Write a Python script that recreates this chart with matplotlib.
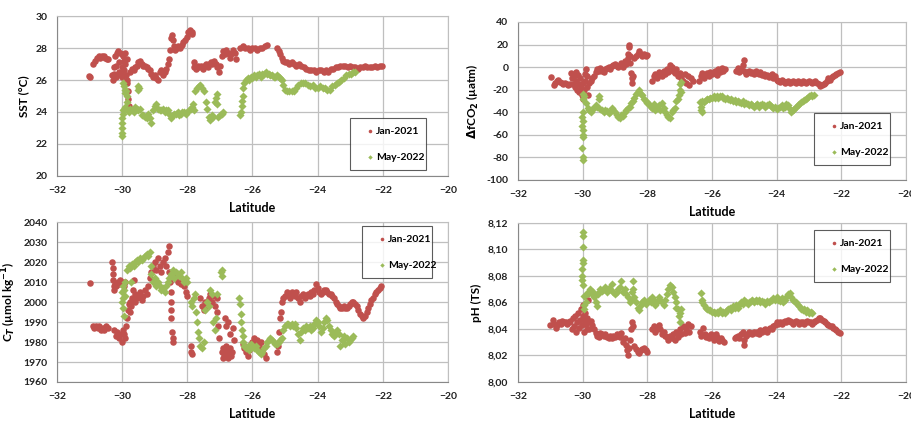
import numpy as np
import matplotlib
matplotlib.use("Agg")
import matplotlib.pyplot as plt

# colours used by the original spreadsheet chart
RED = "#C0504D"
GREEN = "#9BBB59"

# ---- SST (°C) --------------------------------------------------------
sst_jan = [
    (-31.0, 26.2), (-31.02, 26.25),
    (-30.88, 27.0), (-30.83, 27.2), (-30.78, 27.4), (-30.72, 27.5), (-30.67, 27.4), (-30.62, 27.5),
    (-30.57, 27.5), (-30.52, 27.4), (-30.47, 27.3), (-30.42, 27.3),
    (-30.3, 26.3), (-30.28, 26.0), (-30.25, 26.4), (-30.22, 27.5), (-30.2, 26.2), (-30.17, 27.7),
    (-30.15, 26.3), (-30.12, 27.8), (-30.1, 26.5), (-30.07, 27.7), (-30.05, 26.4), (-30.02, 27.6),
    (-30.0, 26.2), (-29.97, 27.5), (-29.95, 26.6), (-29.92, 27.7), (-29.9, 27.0), (-29.87, 26.3),
    (-29.85, 25.8), (-29.83, 25.3), (-29.82, 24.8), (-29.8, 24.4), (-29.84, 26.0), (-29.86, 27.3),
    (-30.2, 26.9), (-30.1, 27.1), (-30.0, 26.8), (-30.25, 26.8), (-29.95, 27.2),
    (-29.75, 26.5), (-29.7, 26.7), (-29.65, 26.6), (-29.6, 26.8), (-29.55, 26.9), (-29.5, 27.1),
    (-29.45, 27.2), (-29.4, 27.0), (-29.35, 26.9), (-29.3, 26.9), (-29.25, 26.8), (-29.2, 26.7),
    (-29.15, 26.6), (-29.1, 26.4), (-29.05, 26.2), (-29.0, 26.3), (-28.95, 26.1), (-28.9, 26.0),
    (-28.85, 26.5), (-28.8, 26.6), (-28.75, 26.3), (-28.7, 26.5), (-28.65, 26.7), (-28.6, 27.0),
    (-28.55, 27.3),
    (-28.52, 27.9), (-28.5, 28.6), (-28.47, 28.8), (-28.45, 28.5), (-28.42, 28.1), (-28.38, 27.9),
    (-28.33, 28.0), (-28.28, 28.1), (-28.22, 28.0), (-28.17, 28.2), (-28.12, 28.4), (-28.07, 28.5),
    (-28.02, 28.7), (-27.97, 29.0), (-27.92, 29.1), (-27.87, 29.0), (-27.85, 28.9),
    (-27.8, 26.8), (-27.78, 27.1), (-27.73, 26.7), (-27.68, 26.9), (-27.63, 26.8), (-27.58, 26.9),
    (-27.53, 26.7), (-27.48, 26.9), (-27.43, 27.0), (-27.38, 26.8), (-27.33, 27.0), (-27.28, 27.1),
    (-27.23, 27.0), (-27.18, 27.2), (-27.13, 27.0), (-27.08, 26.8), (-27.03, 26.5), (-27.0, 26.9),
    (-26.95, 27.5), (-26.9, 27.8), (-26.85, 27.6), (-26.8, 27.9), (-26.75, 27.7), (-26.7, 27.4),
    (-26.65, 27.6), (-26.6, 27.9), (-26.55, 27.7), (-26.5, 27.3),
    (-26.38, 28.0), (-26.3, 28.1), (-26.22, 28.0), (-26.15, 28.0), (-26.07, 27.9), (-26.0, 28.0),
    (-25.92, 28.0), (-25.85, 27.9), (-25.77, 28.0), (-25.7, 28.0), (-25.62, 28.1), (-25.56, 28.2),
    (-25.26, 28.0), (-25.2, 27.8), (-25.15, 27.6), (-25.1, 27.4), (-25.05, 27.2), (-25.0, 27.1),
    (-24.95, 27.1), (-24.88, 27.0), (-24.8, 27.1), (-24.72, 27.0), (-24.65, 26.9), (-24.58, 27.0),
    (-24.5, 26.9), (-24.42, 26.8), (-24.35, 26.7), (-24.28, 26.6), (-24.2, 26.6), (-24.12, 26.6),
    (-24.05, 26.5), (-23.97, 26.6), (-23.9, 26.6), (-23.82, 26.5), (-23.75, 26.6), (-23.68, 26.5),
    (-23.6, 26.7), (-23.52, 26.7), (-23.45, 26.8), (-23.37, 26.8), (-23.3, 26.9), (-23.22, 26.9),
    (-23.15, 26.9), (-23.07, 26.8), (-23.0, 26.9), (-22.92, 26.8), (-22.85, 26.8), (-22.77, 26.7),
    (-22.7, 26.8), (-22.62, 26.8), (-22.55, 26.9), (-22.47, 26.8), (-22.4, 26.8), (-22.32, 26.8),
    (-22.25, 26.9), (-22.17, 26.8), (-22.1, 26.9), (-22.03, 26.9),
]
sst_may = [
    (-30.0, 22.5), (-30.0, 22.7), (-30.0, 23.0), (-29.99, 23.3), (-29.99, 23.6), (-29.98, 23.9),
    (-29.97, 24.1),
    (-29.97, 25.8), (-29.94, 25.6), (-29.92, 25.4), (-29.9, 25.2), (-29.88, 25.3), (-29.86, 25.0),
    (-29.84, 24.6),
    (-29.95, 24.2), (-29.9, 24.3), (-29.85, 24.1), (-29.8, 24.0), (-29.75, 24.2), (-29.7, 24.1),
    (-29.65, 24.0), (-29.6, 24.3), (-29.55, 24.2), (-29.5, 24.1), (-29.45, 24.2), (-29.4, 23.8),
    (-29.35, 23.8), (-29.3, 23.7), (-29.25, 23.6), (-29.2, 23.9), (-29.15, 23.6), (-29.1, 23.3),
    (-29.05, 24.1), (-29.0, 24.4), (-28.95, 24.5), (-28.9, 24.2), (-28.85, 24.1), (-28.8, 24.1),
    (-28.75, 24.2), (-28.7, 24.0), (-28.65, 24.1), (-28.6, 24.1), (-28.55, 23.9), (-28.5, 23.6),
    (-28.45, 23.8), (-28.4, 23.9), (-28.35, 23.9), (-28.3, 24.0), (-28.25, 23.8), (-28.2, 23.9),
    (-28.15, 24.0), (-28.1, 24.0), (-28.05, 23.9), (-28.0, 24.0), (-27.95, 24.1), (-27.9, 24.2),
    (-27.85, 24.3), (-27.82, 24.5), (-27.78, 24.1),
    (-29.52, 25.4), (-29.5, 25.6), (-29.48, 25.5),
    (-27.75, 25.3), (-27.7, 25.5), (-27.65, 25.6), (-27.6, 25.7), (-27.55, 25.5), (-27.5, 25.3),
    (-27.42, 24.6), (-27.4, 24.2), (-27.35, 23.7), (-27.3, 23.5), (-27.25, 23.8), (-27.2, 23.7),
    (-27.15, 24.6), (-27.12, 24.9), (-27.1, 25.1), (-27.08, 24.5),
    (-27.05, 23.7), (-27.0, 23.8), (-26.95, 23.9), (-26.9, 24.0),
    (-26.38, 23.8), (-26.35, 24.0), (-26.33, 24.4), (-26.32, 24.7), (-26.3, 25.0), (-26.28, 25.5),
    (-26.25, 25.8), (-26.2, 26.0), (-26.15, 26.1), (-26.1, 26.0), (-26.05, 26.2), (-26.0, 26.1),
    (-25.95, 26.3), (-25.9, 26.2), (-25.85, 26.3), (-25.8, 26.4), (-25.75, 26.2), (-25.7, 26.4),
    (-25.65, 26.4), (-25.6, 26.5), (-25.55, 26.4), (-25.5, 26.4), (-25.45, 26.3), (-25.4, 26.3),
    (-25.35, 26.2), (-25.3, 26.2), (-25.25, 26.3), (-25.2, 26.2), (-25.15, 26.1), (-25.1, 26.0),
    (-25.05, 25.7), (-25.0, 25.4), (-24.95, 25.3), (-24.88, 25.3), (-24.8, 25.3), (-24.72, 25.3),
    (-24.65, 25.5), (-24.6, 25.7), (-24.52, 25.8), (-24.45, 25.8), (-24.38, 25.8), (-24.3, 25.7),
    (-24.22, 25.6), (-24.15, 25.7), (-24.07, 25.5), (-24.0, 25.5), (-23.93, 25.6), (-23.85, 25.5),
    (-23.78, 25.5), (-23.7, 25.4), (-23.63, 25.4), (-23.55, 25.6), (-23.48, 25.7), (-23.42, 25.8),
    (-23.35, 25.9), (-23.28, 26.0), (-23.2, 26.1), (-23.13, 26.3), (-23.05, 26.4), (-22.98, 26.4),
    (-22.9, 26.5), (-22.85, 26.5),
]

# ---- delta fCO2 (µatm) -----------------------------------------------
dfco2_jan = [
    (-30.99, -9),
    (-30.9, -16), (-30.85, -14), (-30.8, -12), (-30.75, -11), (-30.7, -13), (-30.65, -14),
    (-30.6, -15), (-30.55, -14), (-30.5, -15), (-30.45, -16), (-30.4, -15),
    (-30.35, -5), (-30.32, -10), (-30.3, -15), (-30.28, -8), (-30.25, -18), (-30.22, -4),
    (-30.2, -12), (-30.18, -20), (-30.15, -7), (-30.12, -15), (-30.1, -22), (-30.08, -10),
    (-30.05, -18), (-30.03, -25), (-30.0, -14), (-29.98, -28), (-29.96, -20), (-29.94, -6),
    (-29.92, -12), (-29.9, -2), (-29.88, -18), (-29.86, -8), (-29.84, -25),
    (-29.8, -14), (-29.75, -12), (-29.7, -10), (-29.65, -8), (-29.6, -4), (-29.55, -2),
    (-29.5, -3), (-29.45, -1), (-29.4, -3), (-29.35, -4), (-29.3, -2), (-29.25, -1),
    (-29.2, 0), (-29.15, -2), (-29.1, 1),
    (-29.05, 2), (-29.0, 3), (-28.95, 1), (-28.9, 0), (-28.85, 2), (-28.8, 4), (-28.75, 0),
    (-28.7, 5), (-28.65, 3), (-28.6, 8),
    (-28.6, 12), (-28.58, 18), (-28.57, 20), (-28.55, 10), (-28.53, 4),
    (-28.5, -5), (-28.48, -10), (-28.46, -14), (-28.44, -8),
    (-28.4, 8), (-28.35, 10), (-28.3, 12), (-28.25, 14), (-28.2, 12), (-28.15, 10), (-28.1, 12),
    (-28.05, 10), (-28.0, 11),
    (-27.85, -12), (-27.8, -8), (-27.75, -6), (-27.7, -10), (-27.65, -4), (-27.6, -5),
    (-27.55, -8), (-27.5, -3), (-27.45, -6), (-27.4, -2), (-27.35, -4), (-27.3, 2), (-27.25, 0),
    (-27.2, -3), (-27.15, -5), (-27.1, -2), (-27.05, -8), (-27.0, -5), (-26.95, -10),
    (-26.9, -12), (-26.85, -6), (-26.8, -14), (-26.75, -8), (-26.7, -16), (-26.65, -10),
    (-26.6, -12),
    (-26.4, -12), (-26.35, -8), (-26.3, -5), (-26.25, -10), (-26.2, -7), (-26.15, -5),
    (-26.1, -8), (-26.05, -4), (-26.0, -6), (-25.95, -5), (-25.9, -3), (-25.85, -7),
    (-25.8, -2), (-25.75, -4), (-25.7, -1), (-25.65, -3), (-25.6, -2),
    (-25.25, -3), (-25.2, -1), (-25.15, -4), (-25.1, -2), (-25.05, 2), (-25.02, 6), (-25.0, -3),
    (-24.95, -6), (-24.9, -4), (-24.85, -3), (-24.8, -5), (-24.75, -4), (-24.7, -6),
    (-24.65, -3), (-24.6, -5), (-24.55, -6), (-24.5, -4), (-24.45, -7), (-24.4, -6),
    (-24.35, -8), (-24.3, -7), (-24.25, -9), (-24.2, -8), (-24.15, -6), (-24.1, -10),
    (-24.05, -8), (-24.0, -11), (-23.95, -12), (-23.9, -13), (-23.85, -11), (-23.8, -12),
    (-23.75, -14), (-23.7, -13), (-23.65, -12), (-23.6, -14), (-23.55, -13), (-23.5, -12),
    (-23.45, -13), (-23.4, -14), (-23.35, -12), (-23.3, -13), (-23.25, -14), (-23.2, -12),
    (-23.15, -13), (-23.1, -14), (-23.05, -13), (-23.0, -12), (-22.95, -13), (-22.9, -14),
    (-22.85, -13), (-22.8, -12), (-22.75, -14), (-22.7, -15), (-22.65, -17), (-22.6, -16),
    (-22.55, -15), (-22.5, -14), (-22.45, -12), (-22.4, -10), (-22.35, -11), (-22.3, -9),
    (-22.25, -8), (-22.2, -7), (-22.15, -6), (-22.1, -5), (-22.05, -4),
]
dfco2_may = [
    (-29.98, -24), (-29.98, -28), (-30.0, -40), (-30.01, -44), (-30.0, -48), (-30.02, -52),
    (-30.0, -56), (-29.99, -60), (-30.0, -62), (-30.01, -72), (-30.0, -80), (-30.0, -82),
    (-29.95, -26), (-29.9, -32), (-29.85, -36), (-29.8, -38), (-29.75, -40), (-29.7, -37),
    (-29.65, -36), (-29.6, -34), (-29.55, -35), (-29.5, -28), (-29.48, -26), (-29.45, -37),
    (-29.4, -38), (-29.35, -40), (-29.3, -38), (-29.25, -39), (-29.2, -41), (-29.15, -40),
    (-29.1, -36), (-29.05, -38), (-29.0, -40), (-28.95, -42), (-28.9, -44), (-28.85, -45),
    (-28.8, -42), (-28.75, -43), (-28.7, -40), (-28.65, -38), (-28.6, -36), (-28.55, -35),
    (-28.5, -32), (-28.45, -30), (-28.4, -27), (-28.35, -24), (-28.3, -22), (-28.25, -20),
    (-28.2, -24), (-28.15, -25), (-28.1, -28), (-28.05, -30), (-28.0, -32), (-27.95, -33),
    (-27.9, -35), (-27.85, -36), (-27.8, -33), (-27.75, -38), (-27.7, -36), (-27.65, -34),
    (-27.6, -38), (-27.55, -32), (-27.5, -36), (-27.45, -40), (-27.4, -42), (-27.35, -44),
    (-27.3, -45), (-27.25, -40), (-27.2, -38), (-27.15, -36), (-27.1, -30), (-27.05, -28),
    (-27.02, -25), (-27.0, -20), (-26.98, -15), (-26.97, -13), (-26.95, -22),
    (-26.38, -31), (-26.35, -35), (-26.33, -38), (-26.32, -40), (-26.3, -30), (-26.25, -31),
    (-26.2, -29), (-26.15, -28), (-26.1, -28), (-26.05, -27), (-26.0, -27), (-25.95, -26),
    (-25.9, -27), (-25.85, -26), (-25.8, -27), (-25.75, -26), (-25.7, -26), (-25.65, -27),
    (-25.6, -28), (-25.55, -27), (-25.5, -28), (-25.45, -29), (-25.4, -28), (-25.35, -30),
    (-25.3, -29), (-25.25, -31), (-25.2, -30), (-25.15, -31), (-25.1, -32), (-25.05, -30),
    (-25.0, -33), (-24.95, -32), (-24.9, -33), (-24.85, -34), (-24.8, -33), (-24.75, -34),
    (-24.7, -35), (-24.65, -34), (-24.6, -33), (-24.55, -35), (-24.5, -34), (-24.45, -33),
    (-24.4, -34), (-24.35, -35), (-24.3, -34), (-24.25, -33), (-24.2, -34), (-24.15, -35),
    (-24.1, -36), (-24.05, -35), (-24.0, -37), (-23.95, -36), (-23.9, -35), (-23.85, -34),
    (-23.8, -36), (-23.75, -35), (-23.7, -33), (-23.65, -34), (-23.6, -37), (-23.55, -40),
    (-23.5, -38), (-23.45, -37), (-23.4, -35), (-23.35, -34), (-23.3, -33), (-23.25, -31),
    (-23.2, -30), (-23.15, -29), (-23.1, -28), (-23.05, -27), (-23.0, -26), (-22.95, -25),
    (-22.9, -26), (-22.85, -25),
]

# ---- CT (µmol/kg) ----------------------------------------------------
ct_jan = [
    (-31.0, 2009.5),
    (-30.9, 1988), (-30.85, 1987), (-30.8, 1988), (-30.75, 1987), (-30.7, 1988), (-30.65, 1986),
    (-30.6, 1987), (-30.55, 1986), (-30.5, 1988), (-30.45, 1987),
    (-30.3, 2020), (-30.29, 2017), (-30.28, 2014), (-30.27, 2011), (-30.26, 2008), (-30.25, 2006),
    (-30.22, 2009), (-30.18, 2008), (-30.14, 2010), (-30.1, 2009), (-30.06, 2011), (-30.02, 2010),
    (-29.98, 2009), (-29.94, 2008), (-29.9, 2010),
    (-30.25, 1986), (-30.2, 1983), (-30.15, 1985), (-30.1, 1982), (-30.05, 1984), (-30.0, 1980),
    (-29.98, 1986), (-29.95, 1984), (-29.9, 1982),
    (-29.88, 1988), (-29.85, 1992), (-29.82, 1996), (-29.8, 1999), (-29.77, 2000), (-29.75, 1995),
    (-29.72, 1998), (-29.7, 2002), (-29.68, 2006), (-29.65, 2011), (-29.62, 2000), (-29.6, 2004),
    (-29.55, 2002), (-29.5, 2003), (-29.45, 2005), (-29.4, 2001), (-29.35, 2003), (-29.3, 2006),
    (-29.25, 2004),
    (-29.2, 2008), (-29.15, 2012), (-29.1, 2015), (-29.05, 2018), (-29.0, 2020), (-28.95, 2016),
    (-28.9, 2022), (-28.85, 2018), (-28.8, 2015), (-28.75, 2020), (-28.7, 2022), (-28.65, 2018),
    (-28.6, 2025), (-28.57, 2028), (-28.55, 2015),
    (-28.52, 2010), (-28.51, 2005), (-28.5, 2000), (-28.5, 1996), (-28.5, 1992), (-28.47, 1985),
    (-28.45, 1982), (-28.43, 1980),
    (-28.4, 2014), (-28.35, 2012), (-28.3, 2010), (-28.25, 2011), (-28.2, 2009), (-28.15, 2010),
    (-28.1, 2008), (-28.05, 2005), (-28.0, 2003),
    (-27.9, 1978), (-27.88, 1975), (-27.85, 1974),
    (-27.6, 2002), (-27.55, 1998), (-27.5, 1996), (-27.45, 2000), (-27.4, 1998), (-27.35, 2002),
    (-27.3, 2004), (-27.25, 2000), (-27.2, 2003), (-27.15, 1998), (-27.1, 2002),
    (-27.08, 1995), (-27.05, 1988), (-27.02, 1982),
    (-26.95, 1975), (-26.92, 1972), (-26.9, 1977), (-26.87, 1974), (-26.85, 1976), (-26.82, 1973),
    (-26.8, 1978), (-26.77, 1975), (-26.75, 1972), (-26.72, 1976), (-26.7, 1974), (-26.68, 1977),
    (-26.65, 1973), (-26.62, 1975),
    (-26.85, 1992), (-26.8, 1988), (-26.75, 1990), (-26.7, 1984), (-26.6, 1987), (-26.57, 1981),
    (-26.3, 1979), (-26.25, 1977), (-26.2, 1975), (-26.15, 1973), (-26.1, 1976), (-26.05, 1978),
    (-26.0, 1980), (-25.95, 1982), (-25.9, 1979), (-25.85, 1981), (-25.8, 1978), (-25.75, 1980),
    (-25.7, 1976), (-25.65, 1974), (-25.6, 1972),
    (-25.25, 1975), (-25.22, 1978), (-25.18, 1985), (-25.15, 1992), (-25.13, 1995), (-25.1, 2000),
    (-25.07, 2002),
    (-25.0, 2003), (-24.95, 2005), (-24.9, 2004), (-24.85, 2002), (-24.8, 2005), (-24.75, 2004),
    (-24.7, 2003), (-24.65, 2005), (-24.6, 2002), (-24.55, 2000), (-24.5, 2003), (-24.45, 2004),
    (-24.4, 2002), (-24.35, 2003), (-24.3, 2004), (-24.25, 2003), (-24.2, 2005), (-24.15, 2004),
    (-24.1, 2006), (-24.05, 2009), (-24.0, 2007), (-23.95, 2005), (-23.9, 2004), (-23.85, 2005),
    (-23.8, 2006), (-23.75, 2006), (-23.7, 2005), (-23.65, 2004), (-23.6, 2004), (-23.55, 2003),
    (-23.5, 2002), (-23.45, 2000), (-23.4, 1999), (-23.35, 1998), (-23.3, 1997), (-23.25, 1997),
    (-23.2, 1998), (-23.15, 1997), (-23.1, 1997), (-23.05, 1998), (-23.0, 1999), (-22.95, 2000),
    (-22.9, 2000), (-22.85, 1999), (-22.8, 1998), (-22.75, 1996), (-22.7, 1994), (-22.65, 1993),
    (-22.6, 1992), (-22.55, 1993), (-22.5, 1995), (-22.45, 1997), (-22.4, 1999), (-22.35, 2001),
    (-22.3, 2002), (-22.25, 2004), (-22.2, 2005), (-22.15, 2006), (-22.1, 2007), (-22.05, 2008),
]
ct_may = [
    (-30.02, 2000), (-30.0, 2005), (-29.98, 2008), (-29.97, 2002), (-29.96, 1997), (-29.95, 1993),
    (-29.94, 2006), (-29.92, 2003), (-29.9, 2010),
    (-29.85, 2016), (-29.8, 2018), (-29.75, 2017), (-29.72, 2010), (-29.7, 2019), (-29.65, 2018),
    (-29.6, 2020), (-29.55, 2021), (-29.5, 2020), (-29.45, 2022), (-29.4, 2021), (-29.35, 2022),
    (-29.3, 2023), (-29.25, 2024), (-29.2, 2023), (-29.15, 2025), (-29.12, 2018), (-29.1, 2014),
    (-29.05, 2010), (-29.0, 2012), (-28.95, 2008), (-28.9, 2010), (-28.85, 2008), (-28.8, 2006),
    (-28.75, 2007), (-28.7, 2005), (-28.65, 2008), (-28.6, 2010), (-28.55, 2012), (-28.5, 2014),
    (-28.45, 2016), (-28.4, 2012), (-28.35, 2015), (-28.3, 2014), (-28.25, 2013), (-28.2, 2015),
    (-28.15, 2012), (-28.1, 2010), (-28.05, 2012), (-28.0, 2010),
    (-27.9, 2000), (-27.85, 1998), (-27.8, 2002), (-27.75, 2004), (-27.72, 1995), (-27.7, 1990),
    (-27.68, 1985), (-27.65, 1982), (-27.6, 1978), (-27.55, 1977), (-27.5, 1980),
    (-27.45, 1996), (-27.4, 2000), (-27.35, 1998), (-27.3, 2006), (-27.25, 2004), (-27.2, 1990),
    (-27.15, 1986), (-27.12, 1992), (-27.1, 2004),
    (-26.97, 2015), (-26.95, 2016), (-26.93, 2013),
    (-26.4, 2002), (-26.38, 1999), (-26.36, 1994), (-26.34, 1990), (-26.32, 1986), (-26.3, 1983),
    (-26.28, 1980), (-26.25, 1978),
    (-26.2, 1977), (-26.15, 1978), (-26.1, 1976), (-26.05, 1979), (-26.0, 1978), (-25.95, 1977),
    (-25.9, 1978), (-25.85, 1976), (-25.8, 1975), (-25.75, 1974), (-25.7, 1975), (-25.65, 1977),
    (-25.6, 1978), (-25.55, 1980), (-25.5, 1981), (-25.45, 1982), (-25.4, 1981), (-25.35, 1980),
    (-25.3, 1979), (-25.25, 1979), (-25.2, 1980), (-25.15, 1981), (-25.1, 1982),
    (-25.05, 1986), (-25.0, 1988), (-24.95, 1989), (-24.9, 1989), (-24.85, 1988), (-24.8, 1989),
    (-24.75, 1988), (-24.7, 1989), (-24.65, 1987), (-24.6, 1984), (-24.55, 1981), (-24.5, 1985),
    (-24.45, 1987), (-24.4, 1986), (-24.35, 1988), (-24.3, 1987), (-24.25, 1988), (-24.2, 1986),
    (-24.15, 1987), (-24.1, 1989), (-24.05, 1991), (-24.0, 1990), (-23.95, 1988), (-23.9, 1985),
    (-23.85, 1987), (-23.8, 1990), (-23.75, 1992), (-23.7, 1991), (-23.65, 1988), (-23.6, 1986),
    (-23.55, 1984), (-23.5, 1983), (-23.45, 1985), (-23.4, 1986), (-23.35, 1984), (-23.3, 1978),
    (-23.25, 1981), (-23.2, 1983), (-23.15, 1979), (-23.1, 1982), (-23.05, 1980), (-23.0, 1981),
    (-22.95, 1982), (-22.9, 1983),
]

# ---- pH (total scale) --------------------------------------------------
ph_jan = [
    (-31.0, 8.043),
    (-30.92, 8.047), (-30.88, 8.044), (-30.83, 8.041), (-30.78, 8.043), (-30.73, 8.045),
    (-30.68, 8.044), (-30.63, 8.046), (-30.58, 8.045), (-30.53, 8.045), (-30.48, 8.044),
    (-30.43, 8.045), (-30.38, 8.046),
    (-30.33, 8.040), (-30.3, 8.048), (-30.27, 8.042), (-30.24, 8.050), (-30.21, 8.038),
    (-30.18, 8.045), (-30.15, 8.052), (-30.12, 8.041), (-30.09, 8.047), (-30.06, 8.055),
    (-30.03, 8.043), (-30.0, 8.050), (-29.98, 8.058), (-29.96, 8.038), (-29.94, 8.046),
    (-29.92, 8.052), (-29.9, 8.044), (-29.88, 8.040), (-29.86, 8.048), (-29.84, 8.062),
    (-29.82, 8.045), (-29.8, 8.040),
    (-29.75, 8.046), (-29.7, 8.043), (-29.65, 8.040), (-29.6, 8.037), (-29.55, 8.035),
    (-29.5, 8.034), (-29.45, 8.037), (-29.4, 8.036), (-29.35, 8.035), (-29.3, 8.036),
    (-29.25, 8.034), (-29.2, 8.033), (-29.15, 8.035), (-29.1, 8.033), (-29.05, 8.035),
    (-29.0, 8.034), (-28.95, 8.036), (-28.9, 8.035), (-28.85, 8.034), (-28.8, 8.037),
    (-28.75, 8.030), (-28.7, 8.033), (-28.65, 8.028), (-28.62, 8.024), (-28.6, 8.020),
    (-28.58, 8.026), (-28.55, 8.032),
    (-28.5, 8.040), (-28.47, 8.045), (-28.44, 8.042),
    (-28.4, 8.027), (-28.35, 8.025), (-28.3, 8.023), (-28.25, 8.022), (-28.2, 8.024),
    (-28.15, 8.025), (-28.1, 8.026), (-28.05, 8.024), (-28.0, 8.023),
    (-27.85, 8.040), (-27.8, 8.042), (-27.75, 8.038), (-27.7, 8.040), (-27.65, 8.043),
    (-27.6, 8.040), (-27.55, 8.036), (-27.5, 8.038), (-27.45, 8.035), (-27.4, 8.034),
    (-27.35, 8.032), (-27.3, 8.035), (-27.25, 8.033), (-27.2, 8.036), (-27.15, 8.032),
    (-27.1, 8.038), (-27.05, 8.034), (-27.0, 8.040), (-26.95, 8.036), (-26.9, 8.042),
    (-26.85, 8.037), (-26.8, 8.040), (-26.75, 8.044), (-26.7, 8.038), (-26.65, 8.042),
    (-26.38, 8.038), (-26.33, 8.035), (-26.28, 8.041), (-26.23, 8.036), (-26.18, 8.034),
    (-26.13, 8.035), (-26.08, 8.033), (-26.03, 8.036), (-25.98, 8.034), (-25.93, 8.032),
    (-25.88, 8.036), (-25.83, 8.034), (-25.78, 8.031), (-25.73, 8.033), (-25.68, 8.032),
    (-25.63, 8.030),
    (-25.3, 8.033), (-25.25, 8.034), (-25.2, 8.035), (-25.15, 8.033), (-25.1, 8.036),
    (-25.05, 8.038), (-25.02, 8.028), (-25.0, 8.032), (-24.95, 8.035), (-24.9, 8.036),
    (-24.85, 8.038), (-24.8, 8.037), (-24.75, 8.036), (-24.7, 8.038), (-24.65, 8.037),
    (-24.6, 8.038), (-24.55, 8.036), (-24.5, 8.039), (-24.45, 8.038), (-24.4, 8.039),
    (-24.35, 8.040), (-24.3, 8.038), (-24.25, 8.040), (-24.2, 8.041), (-24.15, 8.040),
    (-24.1, 8.042), (-24.05, 8.043), (-24.0, 8.045), (-23.95, 8.044), (-23.9, 8.045),
    (-23.85, 8.044), (-23.8, 8.045), (-23.75, 8.046), (-23.7, 8.045), (-23.65, 8.047),
    (-23.6, 8.046), (-23.55, 8.045), (-23.5, 8.044), (-23.45, 8.045), (-23.4, 8.046),
    (-23.35, 8.045), (-23.3, 8.044), (-23.25, 8.045), (-23.2, 8.045), (-23.15, 8.044),
    (-23.1, 8.045), (-23.05, 8.046), (-23.0, 8.045), (-22.95, 8.045), (-22.9, 8.044),
    (-22.85, 8.045), (-22.8, 8.046), (-22.75, 8.047), (-22.7, 8.048), (-22.65, 8.048),
    (-22.6, 8.047), (-22.55, 8.046), (-22.5, 8.045), (-22.45, 8.044), (-22.4, 8.043),
    (-22.35, 8.042), (-22.3, 8.042), (-22.25, 8.041), (-22.2, 8.040), (-22.15, 8.039),
    (-22.1, 8.038), (-22.05, 8.037),
]
ph_may = [
    (-30.02, 8.080), (-30.01, 8.085), (-30.0, 8.092), (-30.0, 8.102), (-30.0, 8.110),
    (-29.99, 8.113), (-30.01, 8.077), (-30.0, 8.073), (-29.98, 8.090), (-29.97, 8.065),
    (-29.96, 8.058), (-29.95, 8.055),
    (-29.9, 8.060), (-29.87, 8.066), (-29.84, 8.068), (-29.8, 8.067), (-29.76, 8.070),
    (-29.72, 8.066), (-29.68, 8.068), (-29.64, 8.064), (-29.6, 8.060), (-29.57, 8.057),
    (-29.54, 8.066), (-29.5, 8.068), (-29.45, 8.070), (-29.4, 8.069), (-29.35, 8.070),
    (-29.3, 8.072), (-29.25, 8.068), (-29.2, 8.071), (-29.15, 8.070), (-29.1, 8.074),
    (-29.05, 8.068), (-29.0, 8.066), (-28.95, 8.068), (-28.9, 8.070), (-28.85, 8.072),
    (-28.8, 8.076), (-28.75, 8.068), (-28.7, 8.070), (-28.65, 8.066), (-28.6, 8.064),
    (-28.55, 8.060), (-28.5, 8.062), (-28.47, 8.068), (-28.45, 8.076), (-28.43, 8.070),
    (-28.4, 8.064), (-28.35, 8.060), (-28.3, 8.056), (-28.25, 8.054), (-28.2, 8.058),
    (-28.15, 8.060), (-28.1, 8.062), (-28.05, 8.059), (-28.0, 8.060), (-27.95, 8.062),
    (-27.9, 8.060), (-27.85, 8.064), (-27.8, 8.062), (-27.75, 8.058), (-27.7, 8.060),
    (-27.65, 8.064), (-27.6, 8.062), (-27.55, 8.060), (-27.5, 8.058), (-27.45, 8.062),
    (-27.4, 8.066), (-27.35, 8.070), (-27.3, 8.073), (-27.25, 8.072), (-27.2, 8.068),
    (-27.15, 8.064), (-27.12, 8.056), (-27.1, 8.060), (-27.05, 8.055), (-27.02, 8.050),
    (-27.0, 8.045), (-26.98, 8.052), (-26.95, 8.055),
    (-26.35, 8.067), (-26.32, 8.062), (-26.3, 8.060), (-26.25, 8.058), (-26.2, 8.056),
    (-26.15, 8.055), (-26.1, 8.054), (-26.05, 8.054), (-26.0, 8.053), (-25.95, 8.053),
    (-25.9, 8.052), (-25.85, 8.053), (-25.8, 8.052), (-25.75, 8.054), (-25.7, 8.052),
    (-25.65, 8.053), (-25.6, 8.052), (-25.55, 8.054), (-25.5, 8.055), (-25.45, 8.056),
    (-25.4, 8.054), (-25.35, 8.057), (-25.3, 8.056), (-25.25, 8.058), (-25.2, 8.056),
    (-25.15, 8.058), (-25.1, 8.060), (-25.05, 8.059), (-25.0, 8.062), (-24.95, 8.060),
    (-24.9, 8.059), (-24.85, 8.060), (-24.8, 8.061), (-24.75, 8.062), (-24.7, 8.060),
    (-24.65, 8.062), (-24.6, 8.061), (-24.55, 8.062), (-24.5, 8.060), (-24.45, 8.061),
    (-24.4, 8.060), (-24.35, 8.059), (-24.3, 8.061), (-24.25, 8.060), (-24.2, 8.061),
    (-24.15, 8.062), (-24.1, 8.063), (-24.05, 8.062), (-24.0, 8.064), (-23.95, 8.062),
    (-23.9, 8.061), (-23.85, 8.063), (-23.8, 8.060), (-23.75, 8.062), (-23.7, 8.064),
    (-23.65, 8.066), (-23.6, 8.067), (-23.55, 8.064), (-23.5, 8.062), (-23.45, 8.061),
    (-23.4, 8.060), (-23.35, 8.058), (-23.3, 8.057), (-23.25, 8.055), (-23.2, 8.054),
    (-23.15, 8.055), (-23.1, 8.053), (-23.05, 8.054), (-23.0, 8.052), (-22.95, 8.053),
    (-22.9, 8.052),
]

labels = ["Jan-2021", "May-2022"]
lat_ticks = [-32, -30, -28, -26, -24, -22, -20]

plt.rcParams["font.family"] = ["Lato", "DejaVu Sans"]
plt.rcParams["font.weight"] = "bold"

fig = plt.figure(figsize=(9.12, 4.22), dpi=100)

panels = [
    # data_jan, data_may, ylabel, yticks, axes rect, legend rect, tick fmt
    (sst_jan, sst_may, "SST (°C)", np.arange(20, 31, 2),
     [0.0625, 0.583, 0.4287, 0.379], (0.737, 0.05, 0.22, 0.30), "{:.0f}"),
    (dfco2_jan, dfco2_may, r"$\Delta$fCO$_2$ (µatm)", np.arange(-100, 41, 20),
     [0.568, 0.5735, 0.4254, 0.3744], (0.75, 0.108, 0.222, 0.303), "{:.0f}"),
    (ct_jan, ct_may, r"C$_T$ (µmol kg$^{-1}$)", np.arange(1960, 2041, 10),
     [0.0625, 0.0948, 0.4287, 0.379], (0.767, 0.675, 0.205, 0.275), "{:.0f}"),
    (ph_jan, ph_may, "pH (TS)", np.arange(8.00, 8.121, 0.02),
     [0.568, 0.0948, 0.4254, 0.377], (0.75, 0.642, 0.222, 0.301), "{:.2f}"),
]

for jan, may, ylab, yt, rect, leg_rect, fmt in panels:
    ax = fig.add_axes(rect)
    jan = np.array(jan)
    may = np.array(may)
    ax.scatter(jan[:, 0], jan[:, 1], s=22, marker="o", color=RED, lw=0, label=labels[0], zorder=3)
    ax.scatter(may[:, 0], may[:, 1], s=17, marker="D", color=GREEN, lw=0, label=labels[1], zorder=3)

    ax.set_xlim(-32, -20)
    ax.set_ylim(yt[0], yt[-1])
    ax.set_xticks(lat_ticks)
    ax.set_yticks(yt)
    ax.set_yticklabels([fmt.format(v).replace(".", ",") for v in yt])
    ax.grid(True, color="#BFBFBF", lw=0.9)
    ax.set_axisbelow(True)
    for sp in ax.spines.values():
        sp.set_color("#BFBFBF")
    ax.spines["left"].set_color("#888888")
    ax.spines["bottom"].set_color("#888888")
    ax.tick_params(length=0, labelsize=7.5, pad=7, colors="#222222")
    ax.set_xlabel("Latitude", fontsize=9, fontweight="bold", labelpad=5)
    ax.set_ylabel(ylab, fontsize=8.5, fontweight="bold", labelpad=4)

    leg = ax.legend(loc="center", bbox_to_anchor=leg_rect, mode="expand",
                    fontsize=7.5, frameon=True, fancybox=False, labelspacing=1.6,
                    borderpad=0.8, handletextpad=-0.5, handlelength=2.2,
                    markerscale=0.55)
    leg.get_frame().set_edgecolor("#333333")
    leg.get_frame().set_linewidth(0.8)

fig.savefig("out.png", dpi=100)
plt.close()
